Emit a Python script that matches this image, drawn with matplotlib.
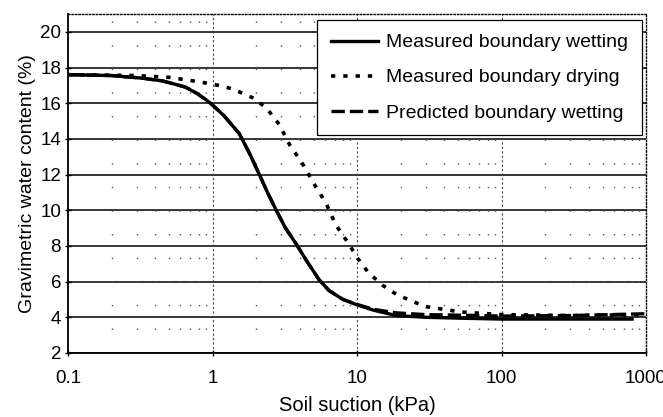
import numpy as np
import matplotlib
matplotlib.use("Agg")
import matplotlib.pyplot as plt
from matplotlib.ticker import FixedLocator, NullFormatter

plt.rcParams['font.family'] = ['Liberation Sans', 'DejaVu Sans']

# Measured boundary wetting
wet_x = [0.1, 0.2, 0.33, 0.45, 0.53, 0.65, 0.78, 0.9, 1.0, 1.2, 1.53, 1.8, 2.11, 2.4, 2.76,
         3.2, 3.8, 4.45, 5.47, 6.4, 8, 10, 13, 18.6, 30, 52, 100, 300, 800]
wet_y = [17.6, 17.55, 17.4, 17.25, 17.1, 16.9, 16.55, 16.2, 15.9, 15.3, 14.3, 13.2, 12.0, 11.0, 10.0,
         9.0, 8.1, 7.2, 6.1, 5.5, 5.0, 4.7, 4.4, 4.1, 4.0, 3.95, 3.9, 3.9, 3.9]

# Measured boundary drying
dry_x = [0.1, 0.3, 0.5, 0.81, 1.1, 1.38, 1.9, 2.35, 2.6, 2.9, 3.4, 4.2, 5.2, 6.1, 7.1, 8.8,
         10, 12, 15, 18.6, 24, 30, 52, 100, 300, 1000]
dry_y = [17.6, 17.55, 17.45, 17.2, 17.0, 16.8, 16.3, 15.75, 15.3, 14.8, 13.7, 12.6, 11.3, 10.4, 9.2, 8.1,
         7.35, 6.5, 5.8, 5.3, 4.9, 4.6, 4.3, 4.15, 4.1, 4.15]

# Predicted boundary wetting
pred_x = [0.1, 0.2, 0.33, 0.45, 0.53, 0.65, 0.78, 0.9, 1.0, 1.2, 1.53, 1.8, 2.11, 2.4, 2.76,
          3.2, 3.8, 4.45, 5.47, 6.4, 8, 10, 13, 18.6, 30, 52, 100, 300, 1000]
pred_y = [17.6, 17.55, 17.4, 17.25, 17.1, 16.9, 16.55, 16.2, 15.9, 15.3, 14.3, 13.2, 12.0, 11.0, 10.0,
          9.0, 8.1, 7.2, 6.1, 5.5, 5.0, 4.72, 4.45, 4.25, 4.15, 4.12, 4.07, 4.1, 4.2]

x_ticks = [0.1, 1, 10, 100, 1000]
x_ticklabels = ["0.1", "1", "10", "100", "1000"]
y_ticks = [2, 4, 6, 8, 10, 12, 14, 16, 18, 20]

fig = plt.figure(figsize=(6.63, 4.17), dpi=100)
ax = fig.add_axes([0.1026, 0.1535, 0.8718, 0.8129])

ax.set_xscale('log')
ax.set_xlim(0.1, 1000)
ax.set_ylim(2, 21)

# grids
for yv in y_ticks:
    ax.axhline(yv, color='black', lw=1.1, zorder=1)
for xv in [1, 10, 100]:
    ax.axvline(xv, color='#444444', lw=0.8, ls=(0, (2, 2)), zorder=1)
minor_x = [m * 10.0 ** e for e in range(-1, 3) for m in range(2, 10)]
for xv in minor_x:
    ax.axvline(xv, color='#555555', lw=1.0, ls=(0, (1, 16)), zorder=1)

ax.plot(wet_x, wet_y, color='black', lw=2.4, ls='-', label='Measured boundary wetting', zorder=3)
ax.plot(dry_x, dry_y, color='black', lw=2.6, ls=(0, (1.2, 2.2)), label='Measured boundary drying', zorder=3)
ax.plot(pred_x, pred_y, color='black', lw=2.4, ls=(0, (4, 1.5)), label='Predicted boundary wetting', zorder=3)

ax.xaxis.set_major_locator(FixedLocator(x_ticks))
ax.set_xticklabels(x_ticklabels)
ax.xaxis.set_minor_locator(FixedLocator([]))
ax.xaxis.set_minor_formatter(NullFormatter())
ax.set_yticks(y_ticks)

ax.tick_params(axis='both', labelsize=13.5, length=4, width=1, direction='inout', colors='black')
ax.tick_params(axis='x', pad=10)
ax.tick_params(axis='y', pad=3)

for s in ['left', 'bottom']:
    ax.spines[s].set_linewidth(1.3)
for s in ['top', 'right']:
    ax.spines[s].set_linewidth(1.0)
    ax.spines[s].set_linestyle((0, (1, 1.5)))

ax.set_xlabel('Soil suction (kPa)', fontsize=14.5, labelpad=7)
ax.set_ylabel('Gravimetric water content (%)', fontsize=14, labelpad=3)

leg = ax.legend(loc='upper right', bbox_to_anchor=(0.993, 0.982), fontsize=14,
                frameon=True, fancybox=False, edgecolor='black', framealpha=1,
                handlelength=2.4, handletextpad=0.45, labelspacing=0.9, borderpad=0.7,
                borderaxespad=0)
leg.get_frame().set_linewidth(0.9)
leg.set_zorder(5)

fig.savefig('out.png', dpi=100)
